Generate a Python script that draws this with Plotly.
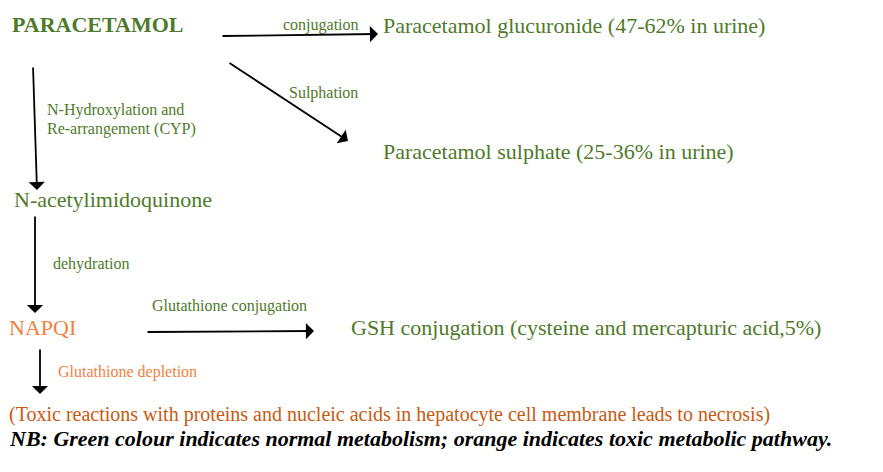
import plotly.graph_objects as go

W, H = 883, 472
OFF = 8  # page margin compensation
GREEN = "#4F7A2B"
ORANGE_L = "#F2803F"
ORANGE_D = "#C85A12"
FONT = "'Liberation Serif', 'Times New Roman', Times, serif"

node_texts = ["PARACETAMOL", "Paracetamol glucuronide (47-62% in urine)",
              "Paracetamol sulphate (25-36% in urine)", "N-acetylimidoquinone",
              "NAPQI", "GSH conjugation (cysteine and mercapturic acid,5%)",
              "(Toxic reactions with proteins and nucleic acids in hepatocyte cell membrane leads to necrosis)",
              "NB: Green colour indicates normal metabolism; orange indicates toxic metabolic pathway."]
node_x = [10, 381, 381, 12, 7, 349, 7, 7]
node_y = [24, 25, 151, 199, 327, 327, 414, 438]
node_size = [22, 22, 22, 22, 22, 22, 20, 22]
node_color = [GREEN, GREEN, GREEN, GREEN, ORANGE_L, GREEN, ORANGE_D, "#000000"]
node_style = ["b", "", "", "", "", "", "", "bi"]

label_texts = ["conjugation", "Sulphation", "N-Hydroxylation and", "Re-arrangement (CYP)",
               "dehydration", "Glutathione conjugation", "Glutathione depletion"]
label_x = [281, 287, 45, 45, 51, 150, 56]
label_y = [25, 93, 110, 129, 264, 306, 372]
label_color = [GREEN, GREEN, GREEN, GREEN, GREEN, GREEN, ORANGE_L]

arrow_x0 = [221, 228, 33, 35, 146, 40]
arrow_y0 = [36, 62, 66, 215, 332, 348]
arrow_x1 = [378, 348, 37, 35, 314, 40]
arrow_y1 = [34, 141, 190, 313, 331, 394]

fig = go.Figure()
fig.add_trace(go.Scatter(x=[0, W], y=[0, H], mode="markers", marker=dict(opacity=0),
                         hoverinfo="skip", showlegend=False))

anns = []
for t, x, y, s, c, st in zip(node_texts, node_x, node_y, node_size, node_color, node_style):
    if "i" in st:
        t = "<i>" + t + "</i>"
    if "b" in st:
        t = "<b>" + t + "</b>"
    anns.append(dict(text=t, x=x, y=y, xref="x", yref="y", xanchor="left", yanchor="middle",
                     xshift=-OFF, yshift=OFF,
                     showarrow=False, font=dict(family=FONT, size=s, color=c)))
for t, x, y, c in zip(label_texts, label_x, label_y, label_color):
    anns.append(dict(text=t, x=x, y=y, xref="x", yref="y", xanchor="left", yanchor="middle",
                     xshift=-OFF, yshift=OFF,
                     showarrow=False, font=dict(family=FONT, size=16, color=c)))
for x0, y0, x1, y1 in zip(arrow_x0, arrow_y0, arrow_x1, arrow_y1):
    anns.append(dict(x=x1, y=y1, ax=x0, ay=y0, xref="x", yref="y", axref="x", ayref="y",
                     xshift=-OFF, yshift=OFF,
                     text="", showarrow=True, arrowhead=1, arrowsize=1.5, arrowwidth=1.8,
                     arrowcolor="#000000", standoff=0))

fig.update_layout(
    width=W, height=H, margin=dict(l=0, r=0, t=0, b=0),
    paper_bgcolor="white", plot_bgcolor="white",
    xaxis=dict(range=[0, W], visible=False, fixedrange=True),
    yaxis=dict(range=[H, 0], visible=False, fixedrange=True),
    annotations=anns, showlegend=False,
)
fig.write_html("out.html")
